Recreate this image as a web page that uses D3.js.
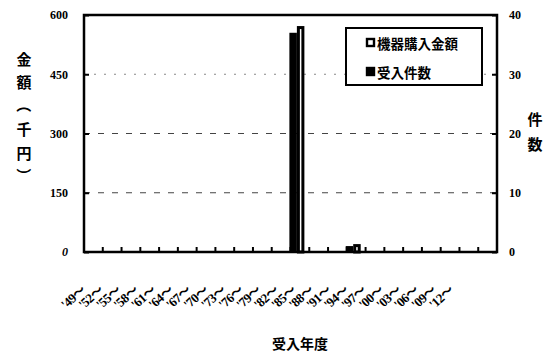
<!DOCTYPE html>
<html>
<head>
<meta charset="utf-8">
<script src="https://cdn.jsdelivr.net/npm/d3@7/dist/d3.min.js"></script>
<style>
  html, body { margin: 0; padding: 0; background: #fff; }
  svg { display: block; }
</style>
</head>
<body>
<svg id="chart" width="546" height="353"></svg>
<script>
// Fiscal-year groups (3-year steps)
const categories = ["'49～","'52～","'55～","'58～","'61～","'64～","'67～","'70～","'73～","'76～","'79～",
  "'82～","'85～","'88～","'91～","'94～","'97～","'00～","'03～","'06～","'09～","'12～"];
// Purchase amount (thousand yen) per group
const amounts = [0,0,0,0,0,0,0,0,0,0,0,572,0,0,20,0,0,0,0,0,0,0];
// Number of items received per group
const counts  = [0,0,0,0,0,0,0,0,0,0,0,37,0,0,1,0,0,0,0,0,0,0];
const amountTicks = [0,150,300,450,600];
const countTicks  = [0,10,20,30,40];
const seriesNames = ["機器購入金額","受入件数"];

const svg = d3.select("#chart");
const plot = {left: 84, right: 497, top: 15, bottom: 252};
const serif = "'Liberation Serif','DejaVu Serif','Noto Sans CJK JP',serif";
const cjk = "'Noto Sans CJK JP','Noto Sans CJK SC',sans-serif";

const x = d3.scaleBand().domain(categories).range([plot.left, plot.right]).padding(0);
const yAmt = d3.scaleLinear().domain([0, 600]).range([plot.bottom, plot.top]);
const yCnt = d3.scaleLinear().domain([0, 40]).range([plot.bottom, plot.top]);
// label row for the slanted year labels
const xLabel = d3.scalePoint().domain(categories).range([80, 448]);

// dashed gridlines
svg.append("g").selectAll("line")
  .data(amountTicks.filter(d => d > 0 && d < 600))
  .join("line")
  .attr("x1", plot.left).attr("x2", plot.right)
  .attr("y1", d => yAmt(d)).attr("y2", d => yAmt(d))
  .attr("stroke", d => d === 450 ? "#888" : "#444")
  .attr("stroke-width", 1)
  .attr("stroke-dasharray", d => d === 450 ? "2,8" : "6,8");

// bars: count (black) on the left, amount (white, outlined) on the right
const barW = 7.5, shift = -3;
const barG = svg.append("g");
barG.selectAll("rect.cnt")
  .data(categories.map((c, i) => ({c, v: counts[i]})).filter(d => d.v > 0))
  .join("rect").attr("class", "cnt")
  .attr("x", d => x(d.c) + x.bandwidth() / 2 + shift - barW)
  .attr("y", d => yCnt(d.v))
  .attr("width", barW)
  .attr("height", d => plot.bottom - yCnt(d.v))
  .attr("fill", "#000");
barG.selectAll("rect.amt")
  .data(categories.map((c, i) => ({c, v: amounts[i]})).filter(d => d.v > 0))
  .join("rect").attr("class", "amt")
  .attr("x", d => x(d.c) + x.bandwidth() / 2 + shift + 1.5)
  .attr("y", d => yAmt(d.v) + 1.5)
  .attr("width", barW - 3)
  .attr("height", d => plot.bottom - yAmt(d.v) - 1.5)
  .attr("fill", "#fff")
  .attr("stroke", "#000")
  .attr("stroke-width", 3);

// frame
svg.append("rect")
  .attr("x", plot.left).attr("y", plot.top)
  .attr("width", plot.right - plot.left).attr("height", plot.bottom - plot.top)
  .attr("fill", "none").attr("stroke", "#000").attr("stroke-width", 2.5);

// left axis (amount)
const leftAxis = d3.axisLeft(yAmt).tickValues(amountTicks).tickSize(-5).tickPadding(16)
  .tickFormat(d3.format("d"));
const gL = svg.append("g").attr("transform", `translate(${plot.left},0)`).call(leftAxis);
gL.select(".domain").remove();
gL.selectAll(".tick line").attr("stroke", "#000").attr("stroke-width", 2);
gL.selectAll(".tick text").attr("font-family", serif).attr("font-size", 12)
  .attr("font-weight", "bold").attr("fill", "#000")
  .attr("font-style", d => d === 0 ? "italic" : "normal");

// right axis (count)
const rightAxis = d3.axisRight(yCnt).tickValues(countTicks).tickSize(-5).tickPadding(12);
const gR = svg.append("g").attr("transform", `translate(${plot.right},0)`).call(rightAxis);
gR.select(".domain").remove();
gR.selectAll(".tick line").attr("stroke", "#000").attr("stroke-width", 2);
gR.selectAll(".tick text").attr("font-family", serif).attr("font-size", 12)
  .attr("font-weight", "bold").attr("fill", "#000");

// bottom axis: ticks at group boundaries
const gB = svg.append("g");
gB.selectAll("line")
  .data(categories.slice(1))
  .join("line")
  .attr("x1", d => x(d)).attr("x2", d => x(d))
  .attr("y1", plot.bottom).attr("y2", plot.bottom - 5)
  .attr("stroke", "#000").attr("stroke-width", 2);

// slanted year labels
svg.append("g").selectAll("text")
  .data(categories)
  .join("text")
  .attr("transform", d => `translate(${xLabel(d)},${284}) rotate(-42)`)
  .attr("text-anchor", "end")
  .attr("dominant-baseline", "hanging")
  .attr("font-family", serif).attr("font-size", 13).attr("font-weight", "bold")
  .attr("letter-spacing", -0.5)
  .attr("fill", "#000")
  .text(d => d);

// axis titles
const leftTitle = ["金","額","（","千","円","）"];
svg.append("g").selectAll("text")
  .data(leftTitle)
  .join("text")
  .attr("transform", (d, i) => {
    const cy = 58 + i * 23.5;
    return (d === "（" || d === "）")
      ? `translate(24,${cy}) rotate(90)`
      : `translate(24,${cy})`;
  })
  .attr("text-anchor", "middle").attr("dominant-baseline", "central")
  .attr("font-family", cjk).attr("font-size", 15).attr("font-weight", "bold")
  .attr("fill", "#000")
  .text(d => d);

svg.append("g").selectAll("text")
  .data(["件","数"])
  .join("text")
  .attr("x", 535).attr("y", (d, i) => 118 + i * 25)
  .attr("text-anchor", "middle").attr("dominant-baseline", "central")
  .attr("font-family", cjk).attr("font-size", 15).attr("font-weight", "bold")
  .attr("fill", "#000")
  .text(d => d);

svg.append("text")
  .attr("x", 300).attr("y", 349)
  .attr("text-anchor", "middle")
  .attr("font-family", cjk).attr("font-size", 14).attr("font-weight", "bold")
  .attr("fill", "#000")
  .text("受入年度");

// legend
const lg = svg.append("g");
lg.append("rect").attr("x", 346).attr("y", 28).attr("width", 136).attr("height", 57)
  .attr("fill", "#fff").attr("stroke", "#000").attr("stroke-width", 2);
const items = lg.selectAll("g.item").data(seriesNames).join("g").attr("class", "item")
  .attr("transform", (d, i) => `translate(366,${43 + i * 29})`);
items.append("rect")
  .attr("x", 1).attr("y", -4).attr("width", 7).attr("height", 7)
  .attr("fill", (d, i) => i === 0 ? "#fff" : "#000")
  .attr("stroke", "#000").attr("stroke-width", 2.4);
items.append("text")
  .attr("x", 11).attr("y", 0).attr("dominant-baseline", "central")
  .attr("font-family", cjk).attr("font-size", 13.5).attr("font-weight", "bold")
  .attr("fill", "#000")
  .text(d => d);
</script>
</body>
</html>
